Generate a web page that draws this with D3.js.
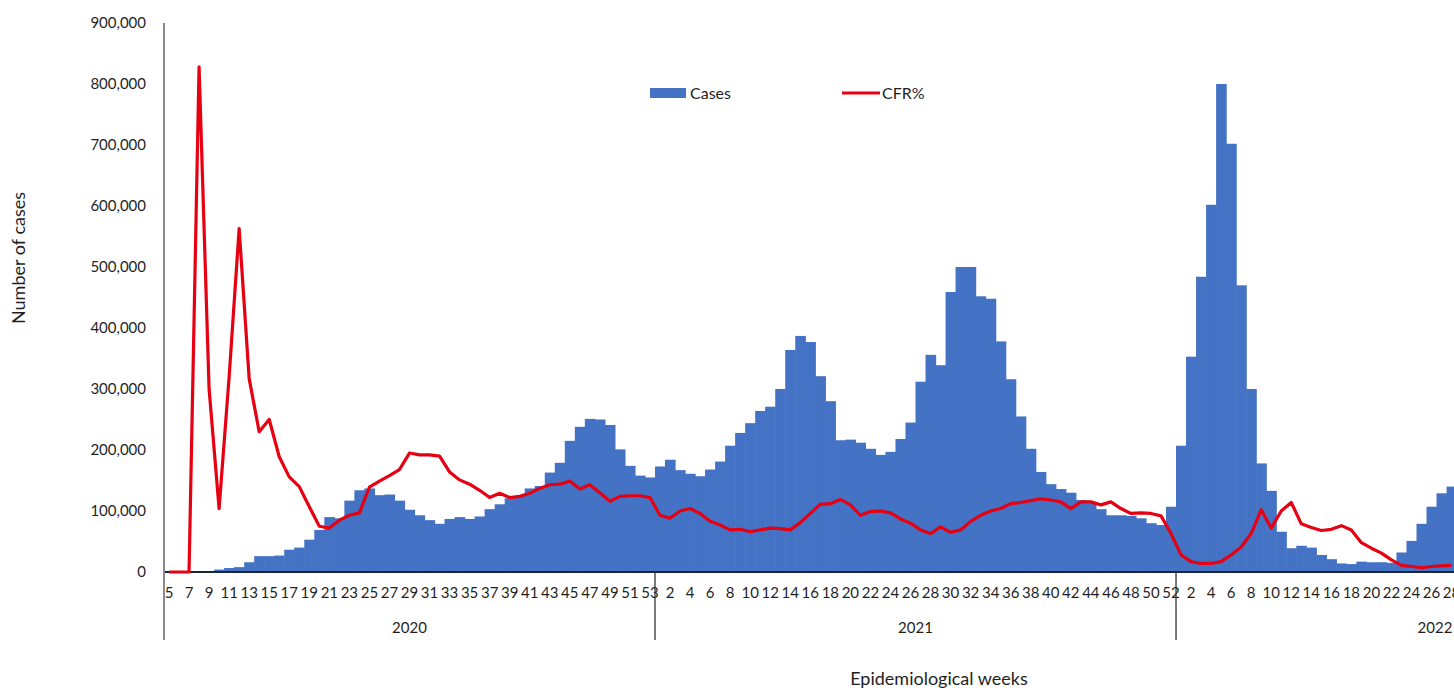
<!DOCTYPE html>
<html><head><meta charset="utf-8">
<script src="https://cdn.jsdelivr.net/npm/d3@7"></script>
<style>html,body{margin:0;padding:0;background:#fff;overflow:hidden}</style>
</head><body><svg id="c" width="1454" height="688"></svg>
<script>
// ---- data ----
const years = ["2020", "2021", "2022"];
const yearFirstWeek = [5, 1, 1];
const yearLastWeek = [53, 52, 52];

const cases2020 = [0,0,0,0,1000,4000,6500,8000,16000,26000,26000,27000,36500,40000,53000,69000,90000,88000,117000,134000,137000,126000,127000,117000,102000,93000,85000,79000,87000,90000,87000,91000,103000,111000,121000,124000,137000,141000,163000,179000,215000,238000,251000,250000,241000,201000,174000,158000,155000];
const cases2021 = [173000,184000,167000,161000,157000,168000,181000,207000,228000,244000,264000,271000,300000,364000,387000,377000,321000,280000,216000,217000,212000,202000,192000,197000,218000,245000,312000,356000,339000,459000,500000,500000,452000,448000,378000,316000,255000,202000,164000,144000,136000,130000,118000,113000,103000,93000,93000,92000,88000,80000,77000,107000];
const cases2022 = [207000,353000,484000,602000,800000,702000,470000,300000,178000,133000,66000,39000,43000,40000,28000,21000,14000,13000,17000,16000,16000,15000,32000,51000,79000,107000,129000,140000];

const cfr2020 = [0,0,0,16.56,6.0,2.08,6.4,11.26,6.34,4.6,5.0,3.78,3.12,2.8,2.14,1.5,1.44,1.7,1.86,1.94,2.78,2.98,3.16,3.36,3.9,3.84,3.84,3.8,3.28,3.02,2.88,2.68,2.44,2.58,2.44,2.48,2.58,2.74,2.86,2.88,2.98,2.72,2.86,2.6,2.32,2.48,2.5,2.5,2.44];
const cfr2021 = [1.86,1.76,2.0,2.08,1.92,1.66,1.54,1.38,1.4,1.32,1.38,1.44,1.42,1.38,1.62,1.92,2.22,2.24,2.38,2.2,1.86,1.98,2.0,1.94,1.74,1.6,1.38,1.26,1.48,1.3,1.38,1.66,1.86,2.0,2.08,2.24,2.28,2.34,2.4,2.36,2.3,2.08,2.3,2.3,2.2,2.3,2.08,1.92,1.94,1.92,1.84,1.26];
const cfr2022 = [0.56,0.34,0.28,0.28,0.34,0.56,0.82,1.26,2.04,1.44,2.0,2.28,1.58,1.46,1.36,1.4,1.52,1.38,0.96,0.78,0.62,0.4,0.22,0.18,0.14,0.18,0.2,0.22];

const yTicks = [0,100000,200000,300000,400000,500000,600000,700000,800000,900000];
const legendLabels = ["Cases", "CFR%"];
const yTitle = "Number of cases";
const xTitle = "Epidemiological weeks";

(function () {
// ---- build table ----
const casesByYear = [cases2020, cases2021, cases2022];
const cfrByYear = [cfr2020, cfr2021, cfr2022];
const cats = [];
years.forEach((yr, i) => {
  for (let w = yearFirstWeek[i]; w <= yearLastWeek[i]; w++) {
    const j = w - yearFirstWeek[i];
    cats.push({year: yr, week: w, key: yr + "-" + w,
      cases: casesByYear[i][j], cfr: cfrByYear[i][j], idx: cats.length});
  }
});

const FONT = "Lato, 'Open Sans', sans-serif";
const TXT = "#1f1f1f";
const W = 1454;
const svg = d3.select("#c");
const pLeft = 164, step = 10.02, pBottom = 572, pTop = 23;

const x = d3.scaleBand().domain(cats.map(d => d.key))
  .range([pLeft, pLeft + cats.length * step]).padding(0);
const y = d3.scaleLinear().domain([0, 900000]).range([pBottom, pTop]);
const yc = d3.scaleLinear().domain([0, 18]).range([pBottom, pTop]);
const bw = x.bandwidth();

// bars
svg.append("g").selectAll("rect")
  .data(cats.filter(d => d.cases !== undefined && d.cases > 0))
  .join("rect")
  .attr("x", d => x(d.key))
  .attr("width", bw + 0.6)
  .attr("y", d => y(d.cases))
  .attr("height", d => pBottom - y(d.cases))
  .attr("fill", "#4472C4");

// x axis (labels on every other week, only those inside the picture)
const tickKeys = cats.filter(d => d.idx % 2 === 0 && x(d.key) + bw / 2 < W).map(d => d.key);
const weekOf = new Map(cats.map(d => [d.key, d.week]));
const xa = svg.append("g").attr("transform", `translate(0,${pBottom})`)
  .call(d3.axisBottom(x).tickValues(tickKeys).tickFormat(k => weekOf.get(k))
    .tickSize(0).tickPadding(15));
xa.select(".domain").remove();
xa.selectAll("text").attr("font-family", FONT).attr("font-size", 15)
  .attr("fill", TXT);
svg.append("line").attr("x1", pLeft).attr("x2", pLeft + cats.length * step)
  .attr("y1", pBottom).attr("y2", pBottom)
  .attr("stroke", "#1c2536").attr("stroke-width", 2);

// year groups
let start = 0;
years.forEach((yr, i) => {
  const n = yearLastWeek[i] - yearFirstWeek[i] + 1;
  const x0 = pLeft + start * step;
  const x1 = pLeft + (start + n) * step;
  if (i > 0) {
    svg.append("line").attr("x1", x0).attr("x2", x0)
      .attr("y1", pBottom).attr("y2", 640)
      .attr("stroke", "#333").attr("stroke-width", 1.3);
  }
  svg.append("text").attr("x", Math.min((x0 + x1) / 2, W - 19)).attr("y", 633)
    .attr("text-anchor", "middle").attr("font-family", FONT)
    .attr("font-size", 15).attr("fill", TXT).text(yr);
  start += n;
});

// y axis
const ya = svg.append("g").attr("transform", `translate(${pLeft},0)`)
  .call(d3.axisLeft(y).tickValues(yTicks).tickFormat(d3.format(","))
    .tickSize(0).tickPadding(18));
ya.select(".domain").remove();
ya.selectAll("text").attr("font-family", FONT).attr("font-size", 15)
  .attr("fill", TXT);
svg.append("line").attr("x1", pLeft).attr("x2", pLeft)
  .attr("y1", pTop).attr("y2", 640)
  .attr("stroke", "#8a8a8a").attr("stroke-width", 2);

// CFR line
const lineData = cats.filter(d => d.cfr !== undefined);
svg.append("path").datum(lineData)
  .attr("d", d3.line().x(d => x(d.key) + bw / 2).y(d => yc(d.cfr)))
  .attr("fill", "none").attr("stroke", "#e60012")
  .attr("stroke-width", 3.2).attr("stroke-linejoin", "round");

// titles
svg.append("text").attr("transform", "translate(25,258) rotate(-90)")
  .attr("text-anchor", "middle").attr("font-family", FONT)
  .attr("font-size", 18).attr("fill", TXT).text(yTitle);
svg.append("text").attr("x", 939).attr("y", 685)
  .attr("text-anchor", "middle").attr("font-family", FONT)
  .attr("font-size", 18).attr("fill", TXT).text(xTitle);

// legend
const lg = svg.append("g");
lg.append("rect").attr("x", 650).attr("y", 88).attr("width", 36).attr("height", 10)
  .attr("fill", "#4472C4");
lg.append("text").attr("x", 690).attr("y", 98.5).attr("font-family", FONT)
  .attr("font-size", 16).attr("fill", TXT).text(legendLabels[0]);
lg.append("line").attr("x1", 842).attr("x2", 880).attr("y1", 93).attr("y2", 93)
  .attr("stroke", "#e60012").attr("stroke-width", 3.2);
lg.append("text").attr("x", 882).attr("y", 98.5).attr("font-family", FONT)
  .attr("font-size", 16).attr("fill", TXT).text(legendLabels[1]);
})();
</script>
</body></html>
